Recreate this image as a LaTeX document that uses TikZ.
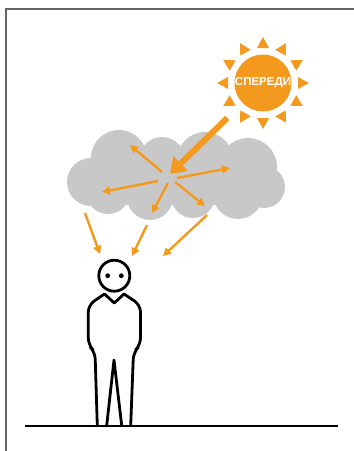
\documentclass[tikz,border=0pt]{standalone}
\usepackage{fontspec}
\setsansfont{Liberation Sans}
\usetikzlibrary{arrows.meta}
\definecolor{sunorange}{HTML}{F39A1E}
\definecolor{cloudgray}{HTML}{C8C8C8}
\tikzset{
  light/.style={draw=sunorange, line width=2.4pt, -{Triangle[length=8pt,width=8pt]}},
  body/.style={draw=black, line width=2.8pt, line join=round, line cap=round}
}
\begin{document}
\begin{tikzpicture}[x=1pt,y=-1pt]
  \useasboundingbox (0,0) rectangle (354,451);
  \draw[black!60, line width=1.6pt] (6,451) -- (6,9) -- (354,9);
  % cloud
  \fill[cloudgray] (91,182) circle (24) (119,158) circle (28)
    (162,160) circle (23) (205,160) circle (28) (248,167) circle (29)
    (264,187) circle (21) (108,192) circle (22) (150,197) circle (23)
    (193,196) circle (22) (238,194) circle (25);
  \fill[cloudgray] (95,160) rectangle (262,205);
  % sun
  \node[circle, fill=sunorange, minimum size=57pt, inner sep=0pt, text=white,
    font=\sffamily\bfseries\fontsize{11.5}{12}\selectfont] (sun) at (263,83) {СПЕРЕДИ};
  \foreach \a in {0,30,...,330}
    \fill[sunorange, shift={(263,83)}, rotate=\a] (35,-6) -- (46,0) -- (35,6) -- cycle;
  \coordinate (hit) at (170,174);
  \draw[sunorange, line width=6pt, -{Triangle[length=15pt,width=20pt]}, shorten <=50pt]
    (sun.center) -- (hit);
  % scattered light
  \foreach \xa/\ya/\xb/\yb in {162/172/130/145, 158/181/102/192, 168/183/152/213,
                               175/182/205/206, 177/178/230/168,
                               85/213/100/254, 147/225/132/256, 207/215/163/256}
    \draw[light] (\xa,\ya) -- (\xb,\yb);
  % person
  \draw[body] (114.3,275.7) circle (15.5);
  \fill (107.7,275.7) circle (2.4);
  \fill (121.3,275.7) circle (2.4);
  \draw[body] (104.5,294) -- (114.3,303) -- (124,294);
  \draw[body, rounded corners=7pt] (104.5,294) -- (88.3,305) -- (88.3,345)
    -- (95,352) -- (97.3,425.5);
  \draw[body, rounded corners=7pt] (124,294) -- (140.5,305) -- (140.5,345)
    -- (133.5,352) -- (130.7,425.5);
  \draw[body] (106.7,425.5) -- (114,360) -- (121.7,425.5);
  \draw[line width=2.2pt] (25,426) -- (338,426);
\end{tikzpicture}
\end{document}
